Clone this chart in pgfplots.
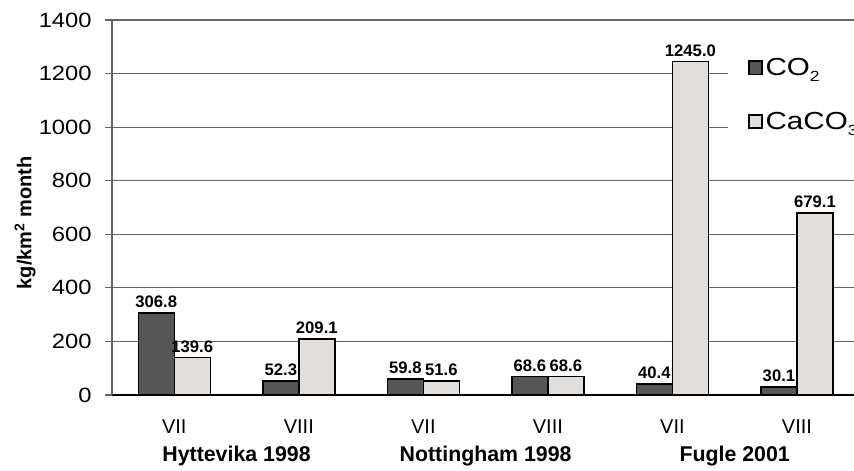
\documentclass[border=0pt]{standalone}
\usepackage{fontspec}
\setmainfont{Liberation Sans}
\newfontfamily\widefont[FakeStretch=1.15]{Liberation Sans}
\newfontfamily\wideleg[FakeStretch=1.2]{Liberation Sans}
\usepackage{pgfplots}
\pgfplotsset{compat=1.18}
\usepackage{pgfplotstable}
\definecolor{darkbar}{RGB}{86,86,86}
\definecolor{lightbar}{RGB}{225,222,220}
\definecolor{gridc}{RGB}{100,100,100}
\newcommand{\lsub}[1]{\raisebox{-5pt}{\fontsize{11}{12}\selectfont #1}}
\pgfplotstableread{
x co2 caco3
0 306.8 139.6
1 52.3 209.1
2 59.8 51.6
3 68.6 68.6
4 40.4 1245.0
5 30.1 679.1
}\datatable
\begin{document}
\begin{tikzpicture}
\begin{axis}[
  at={(84pt,57pt)}, anchor=south west,
  scale only axis, width=556.5pt, height=281.25pt,
  xmin=-0.5, xmax=5.458, ymin=0, ymax=1400,
  ytick={0,200,...,1400},
  /pgf/number format/assume math mode=true,
  /pgf/number format/1000 sep={},
  yticklabel style={font=\widefont\fontsize{15.5}{18}\selectfont, xshift=-6.5pt},
  xtick=data,
  xticklabels={VII,VIII,VII,VIII,VII,VIII},
  xticklabel style={font=\fontsize{15}{18}\selectfont, yshift=-10pt},
  axis x line*=bottom, axis y line*=left,
  x axis line style={black, line width=2.2pt},
  y axis line style={gridc, line width=0.8pt},
  tick align=outside,
  major tick length=5.25pt,
  ytick style={gridc, line width=0.8pt},
  xtick style={draw=none},
  extra x ticks={-0.5,1.5,3.5},
  extra x tick labels={},
  extra x tick style={tick align=inside, major tick length=5pt, tick style={black, line width=2.5pt, draw=black}},
  ymajorgrids, major grid style={gridc, line width=0.8pt},
  ylabel={\bfseries kg/km\textsuperscript{2} month},
  ylabel style={font=\fontsize{15}{18}\selectfont, at={(axis description cs:-0.117,0.459)}, anchor=center},
  ybar=0pt, bar width=27pt,
  nodes near coords={\pgfmathprintnumber[fixed, fixed zerofill, precision=1, 1000 sep={}]{\pgfplotspointmeta}},
  every node near coord/.append style={font=\bfseries\fontsize{12.5}{14}\selectfont, text=black},
  legend style={at={(rel axis cs:0.830,0.935)}, anchor=north west, draw=none, fill=white,
     font=\wideleg\fontsize{18.5}{21}\selectfont, row sep=22pt, inner xsep=15pt, inner ysep=8pt,
     cells={anchor=west}},
  legend image code/.code={\draw[#1, line width=1.1pt] (0pt,-5pt) rectangle (10pt,5pt);},
  clip=false,
]
\addplot[draw=black, line width=1.1pt, fill=darkbar] table[x=x, y=co2] {\datatable};
\addplot[draw=black, line width=1.1pt, fill=lightbar] table[x=x, y=caco3] {\datatable};
\legend{CO\lsub{2}, CaCO\lsub{3}}
\node[font=\bfseries\fontsize{16}{19}\selectfont] at (axis cs:0.5,0) [yshift=-45.5pt] {Hyttevika 1998};
\node[font=\bfseries\fontsize{16}{19}\selectfont] at (axis cs:2.5,0) [yshift=-45.5pt] {Nottingham 1998};
\node[font=\bfseries\fontsize{16}{19}\selectfont] at (axis cs:4.5,0) [yshift=-45.5pt] {Fugle 2001};
\end{axis}
\pgfresetboundingbox
\useasboundingbox (0,0) rectangle (640.5pt,353.25pt);
\end{tikzpicture}
\end{document}
